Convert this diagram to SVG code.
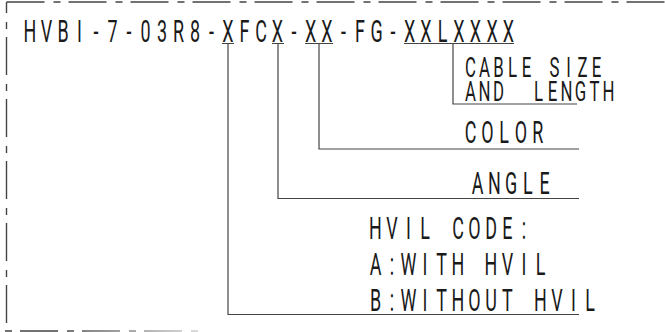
<svg xmlns="http://www.w3.org/2000/svg" width="665" height="332" viewBox="0 0 665 332">
<defs>
<style>
.t{font-family:Roboto,"Liberation Sans","DejaVu Sans",sans-serif;font-weight:400;fill:#1a1a1a;text-anchor:middle}
.big{font-size:32px}
.small{font-size:28px}
.ln{stroke:#444;stroke-width:1.2;fill:none}
.bd{stroke:#444;stroke-width:1.4;fill:none;stroke-dasharray:38 9 7 8}
</style>
<linearGradient id="fade" gradientUnits="userSpaceOnUse" x1="60" y1="0" x2="205" y2="0">
<stop offset="0" stop-color="#444"/>
<stop offset="1" stop-color="#d8d8d8"/>
</linearGradient>
</defs>
<rect width="665" height="332" fill="#fff"/>
<g id="border">
<line class="bd" x1="6.5" y1="2" x2="665" y2="2"/>
<line class="bd" x1="6.5" y1="2" x2="6.5" y2="332" stroke-dashoffset="27"/>
<line class="bd" x1="5" y1="331" x2="202" y2="331" stroke-dashoffset="47" style="stroke:url(#fade)"/>
</g>
<g id="title">
<text class="t big" transform="matrix(0.56 0 0 1 0 41.5)" x="53.6 83 112.5 142 171.4 200.9 230.4 259.8 289.3 318.8 348.2 377.7 407.1 436.6 466.1 495.5 525 554.5 583.9 613.4 642.9 672.3 701.8 731.3 760.7 790.2 819.6 849.1 878.6 908" y="0">HVBI-7-03R8-XFCX-XX-FG-XXLXXXX</text>
<path class="ln" d="M222 43.5H234M272 43.5H284M305 43.5H333M404 43.5H514"/>
</g>
<g id="connectors">
<path class="ln" d="M228 43.5V314.5H579"/>
<path class="ln" d="M278 43.5V198.5H579"/>
<path class="ln" d="M319 43.5V149H579"/>
<path class="ln" d="M453 43.5V104H577"/>
</g>
<g id="cable">
<text class="t small" transform="matrix(0.6 0 0 1 0 77)" x="784.2 807.5 830.8 854.2 877.5 900.8 924.2 947.5 970.8 994.2" y="0">CABLE SIZE</text>
<text class="t small" transform="matrix(0.6 0 0 1 0 100.5)" x="784.2 807.5 830.8 854.2 897.5 920.8 944.2 967.5 990.8 1014.2" y="0">AND LENGTH</text>
</g>
<g id="color">
<text class="t big" transform="matrix(0.56 0 0 1 0 142.5)" x="840.2 870.2 900.2 930.2 960.2" y="0">COLOR</text>
</g>
<g id="angle">
<text class="t big" transform="matrix(0.56 0 0 1 0 193.5)" x="852.7 882.7 912.7 942.7 972.7" y="0">ANGLE</text>
</g>
<g id="hvil">
<text class="t big" transform="matrix(0.56 0 0 1 0 239)" x="670.5 700 729.4 758.9 788.4 817.8 847.3 876.8 906.2 935.7" y="0">HVIL CODE:</text>
<text class="t big" transform="matrix(0.56 0 0 1 0 275)" x="670.5 700 729.4 758.9 788.4 817.8 847.3 876.8 906.2 935.7 965.2" y="0">A:WITH HVIL</text>
<text class="t big" transform="matrix(0.56 0 0 1 0 311)" x="670.5 700 729.4 758.9 788.4 817.8 847.3 876.8 906.2 935.7 965.2 994.6 1024.1 1053.6" y="0">B:WITHOUT HVIL</text>
</g>
</svg>
